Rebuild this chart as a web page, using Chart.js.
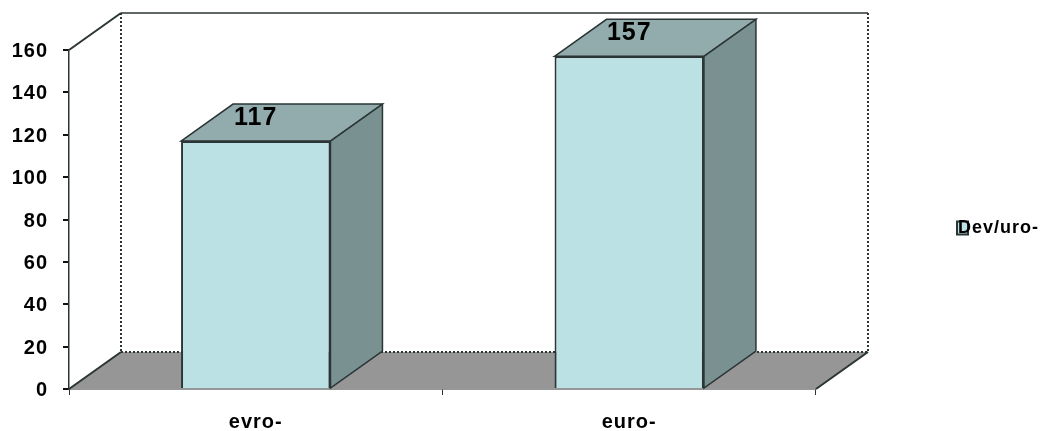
<!DOCTYPE html>
<html lang="sl">
<head>
  <meta charset="UTF-8" />
  <title>Dev/uro-</title>
  <style>
    body { margin: 0; background: #fff; }
    canvas { display: block; }
  </style>
</head>
<body>
  <canvas id="chart" width="1040" height="431"></canvas>

  <script src="https://cdn.jsdelivr.net/npm/chart.js"></script>
  <script>
    const categories = ['evro-', 'euro-'];
    const values = [117, 157];
    const seriesName = 'Dev/uro-';

    // how far the back of the box sits from the front, in pixels
    const depthX = 52;
    const depthY = 37;

    const FRONT = '#bce1e4';
    const TOP = '#92abad';
    const SIDE = '#7a9191';
    const FLOOR = '#969696';
    const EDGE = '#2b3535';
    const FONT = '"Liberation Sans", Arial, sans-serif';

    function poly(ctx, pts, fill) {
      ctx.beginPath();
      pts.forEach((p, i) => i ? ctx.lineTo(p[0], p[1]) : ctx.moveTo(p[0], p[1]));
      ctx.closePath();
      if (fill) {
        ctx.fillStyle = fill;
        ctx.fill();
      }
    }

    function line(ctx, x1, y1, x2, y2, width, dash) {
      ctx.beginPath();
      ctx.setLineDash(dash || []);
      ctx.lineWidth = width;
      ctx.strokeStyle = EDGE;
      ctx.moveTo(x1, y1);
      ctx.lineTo(x2, y2);
      ctx.stroke();
      ctx.setLineDash([]);
    }

    // back wall, floor and the top and side faces of the bars
    const box3d = {
      id: 'box3d',
      afterLayout(chart) {
        // legend keeps its slot in the layout but sits further right,
        // right aligned text runs over the swatch
        const legend = chart.legend;
        const pad = legend.options.labels.padding;
        legend.left = 957 - pad;
        legend.top = 219 - pad;
        legend.right = 1039;
        legend.width = legend.right - legend.left;
      },
      beforeDraw(chart) {
        chart.ctx.letterSpacing = '1px';
      },
      beforeDatasetsDraw(chart) {
        const ctx = chart.ctx;
        const a = chart.chartArea;
        const y0 = chart.scales.y.getPixelForValue(0);
        const yMax = chart.scales.y.getPixelForValue(160);
        const dots = [2, 2];

        ctx.save();
        poly(ctx, [[a.left, y0], [a.left + depthX, y0 - depthY], [a.right + depthX, y0 - depthY], [a.right, y0]], FLOOR);
        line(ctx, a.left + depthX, y0 - depthY, a.right + depthX, y0 - depthY, 2, dots);
        line(ctx, a.left + depthX, yMax - depthY, a.left + depthX, y0 - depthY, 2, dots);
        line(ctx, a.right + depthX, yMax - depthY, a.right + depthX, y0 - depthY, 2, dots);
        line(ctx, a.left + depthX, yMax - depthY, a.right + depthX, yMax - depthY, 1.5);
        line(ctx, a.left, yMax, a.left + depthX, yMax - depthY, 2);
        line(ctx, a.left, y0, a.left + depthX, y0 - depthY, 2);
        line(ctx, a.right, y0, a.right + depthX, y0 - depthY, 2);

        chart.getDatasetMeta(0).data.forEach(bar => {
          const half = bar.width / 2;
          const l = bar.x - half;
          const r = bar.x + half;
          const t = bar.y;
          const b = bar.base;
          ctx.strokeStyle = EDGE;
          ctx.lineWidth = 1.5;
          poly(ctx, [[l, t], [l + depthX, t - depthY], [r + depthX, t - depthY], [r, t]], TOP);
          ctx.stroke();
          poly(ctx, [[r, t], [r + depthX, t - depthY], [r + depthX, b - depthY], [r, b]], SIDE);
          ctx.stroke();
        });
        ctx.restore();
      },
      afterDatasetsDraw(chart) {
        const ctx = chart.ctx;
        ctx.save();
        ctx.fillStyle = '#000';
        ctx.font = 'bold 25px ' + FONT;
        ctx.textAlign = 'center';
        ctx.textBaseline = 'middle';
        chart.getDatasetMeta(0).data.forEach((bar, i) => {
          ctx.fillText(values[i], bar.x, bar.y - 23);
        });
        ctx.restore();
      }
    };

    new Chart(document.getElementById('chart'), {
      type: 'bar',
      data: {
        labels: categories,
        datasets: [{
          label: seriesName,
          data: values,
          backgroundColor: FRONT,
          borderColor: EDGE,
          borderWidth: 2,
          barPercentage: 0.4,
          categoryPercentage: 1
        }]
      },
      plugins: [box3d],
      options: {
        responsive: false,
        animation: false,
        layout: { padding: { top: 50, right: 51, bottom: 0, left: 0 } },
        plugins: {
          tooltip: { enabled: false },
          legend: {
            position: 'right',
            align: 'start',
            labels: {
              boxWidth: 11,
              boxHeight: 13,
              padding: 70,
              textAlign: 'right',
              color: '#000',
              font: { family: FONT, size: 18, weight: 'bold' }
            }
          }
        },
        scales: {
          x: {
            z: 1,
            afterFit(scale) { scale.height = 42; },
            grid: { drawOnChartArea: false, tickLength: 6, tickColor: '#333' },
            border: { color: EDGE, width: 1.5 },
            ticks: {
              maxRotation: 0,
              padding: 15,
              color: '#000',
              font: { family: FONT, size: 20, weight: 'bold' }
            }
          },
          y: {
            min: 0,
            max: 160,
            afterFit(scale) { scale.width = 69; },
            grid: { drawOnChartArea: false, tickLength: 6, tickColor: '#111', lineWidth: 2 },
            border: { color: EDGE, width: 1.5, dash: [2, 2] },
            ticks: {
              stepSize: 20,
              padding: 15,
              labelOffset: 1.5,
              color: '#000',
              font: { family: FONT, size: 20, weight: 'bold' }
            }
          }
        }
      }
    });
  </script>
</body>
</html>
